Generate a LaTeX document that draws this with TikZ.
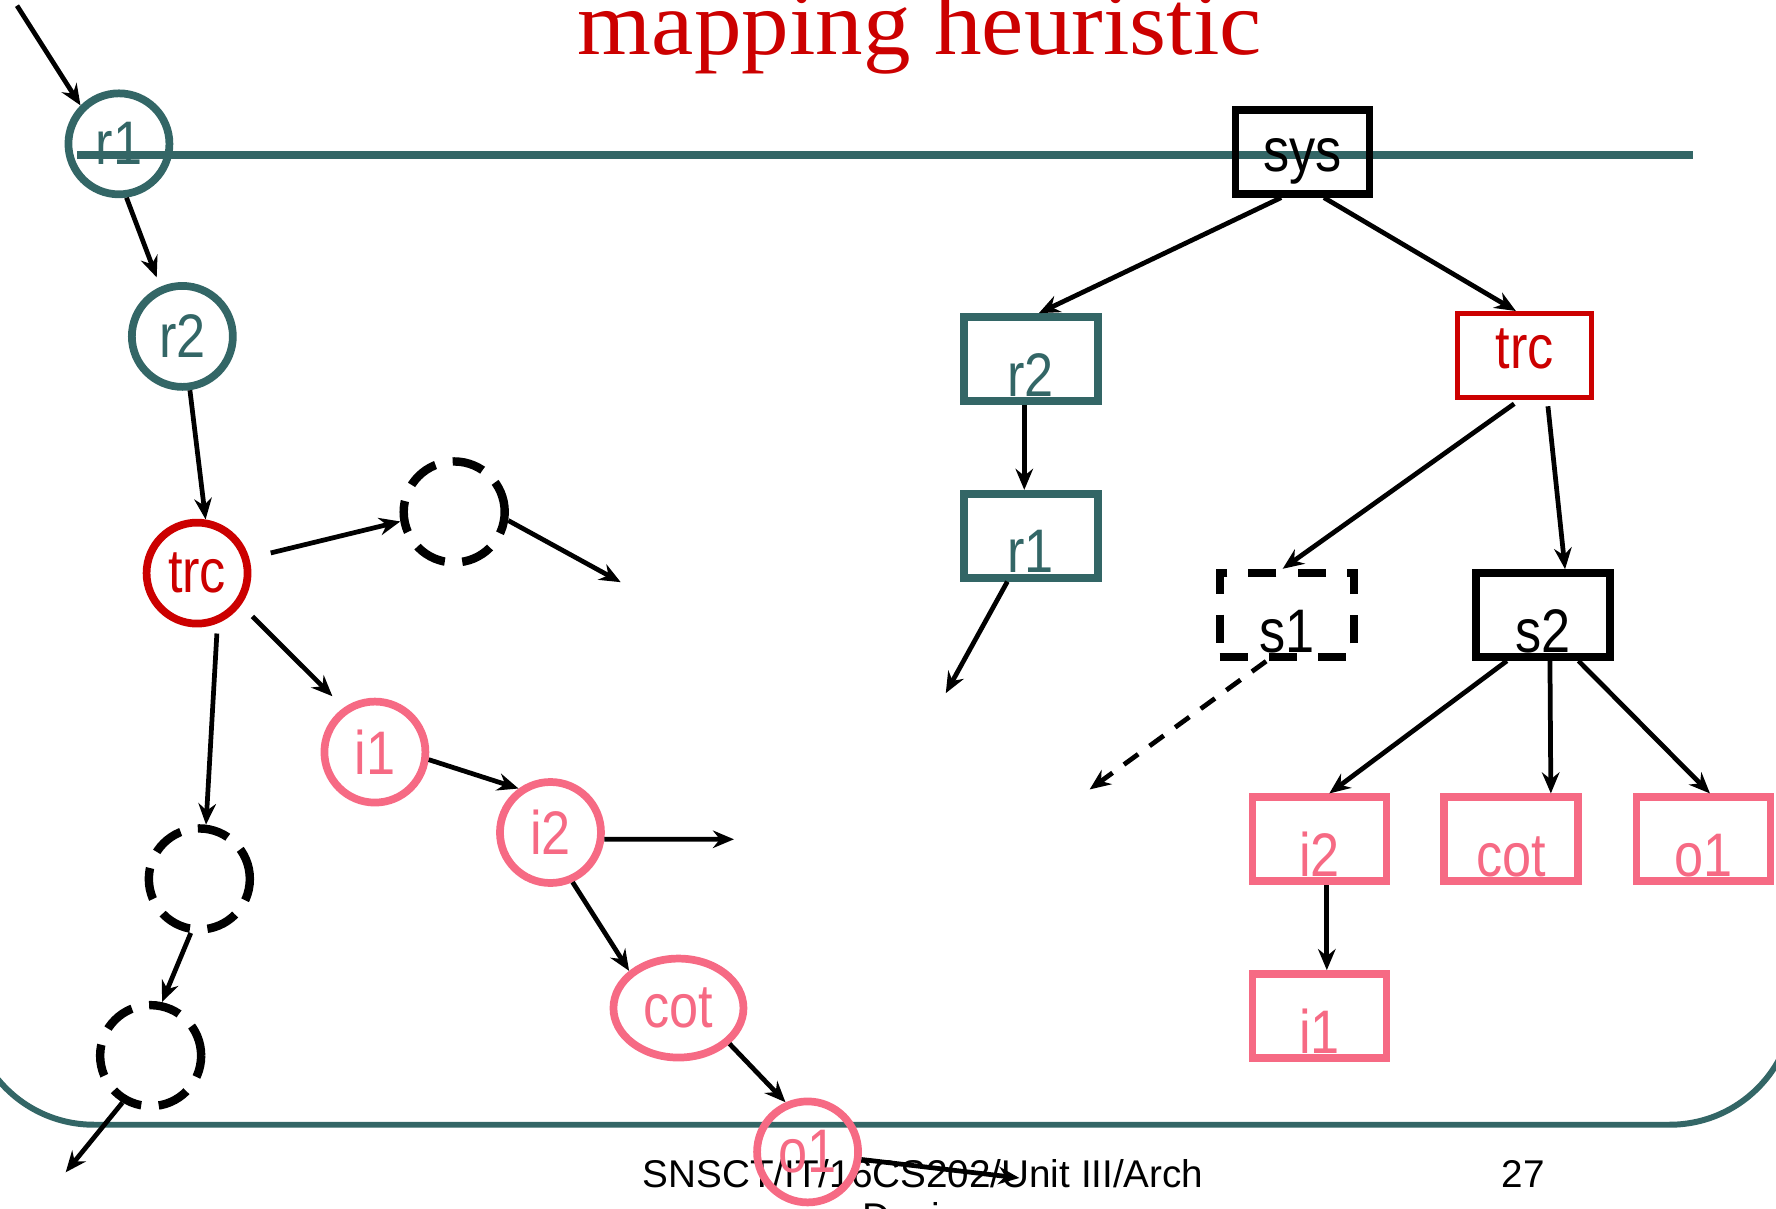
\documentclass[tikz,border=0pt]{standalone}
\usepackage{fontspec}
\setmainfont{Liberation Sans}
\newfontfamily\narrowfont[FakeStretch=0.85]{Liberation Sans}
\newfontfamily\titlefont[FakeStretch=1.04]{Liberation Serif}
\usepackage{tikz}
\usetikzlibrary{arrows.meta,shapes.geometric}
\definecolor{slteal}{HTML}{336666}
\definecolor{slred}{HTML}{CC0000}
\definecolor{slpink}{HTML}{F66A84}

\begin{document}
\begin{tikzpicture}[x=0.11327mm,y=-0.11327mm,>={Stealth[length=6pt,width=5pt,inset=2pt]}]
\tikzstyle{every node}=[font=\narrowfont\fontsize{17.5}{17.5}\selectfont,inner sep=0.5mm];
\tikzstyle{circ}=[draw,circle,line width=2.2pt,minimum size=10.1mm,inner sep=0pt];
\tikzstyle{dcirc}=[circ,line width=2.4pt,dash pattern=on 9pt off 5pt];
\tikzstyle{box}=[draw,rectangle,line width=2.2pt,minimum width=13.4mm,minimum height=8.4mm];
\tikzstyle{low}=[text height=7.4mm,text depth=0pt];
\tikzstyle{arr}=[->,line width=1.35pt];
\useasboundingbox (0,0) rectangle (1568,1067);
% slide frame and title
    \draw[slteal,line width=1.7pt,rounded corners=12.46mm] (-27,700) -- (-27,993) -- (1584,993) -- (1584,700);
    \draw[slteal,line width=2.3pt] (68,137) -- (1495,137);
    \node[font=\titlefont\fontsize{26}{26}\selectfont,slred,anchor=base] (title) at (812,48) {mapping heuristic};
    \node[font=\fontsize{11}{13}\selectfont,anchor=base] (foot) at (815,1048) {SNSCT/IT/16CS202/Unit III/Arch};
    \node[font=\fontsize{11}{13}\selectfont,anchor=base] (foot2) at (815,1086) {Design};
    \node[font=\fontsize{11}{13}\selectfont,anchor=base] (page) at (1345,1048) {27};
% draw search path
%   nodes
    \node[circ,slteal] (r1) at (105,127) {r1};
    \node[circ,slteal] (r2) at (161,297) {r2};
    \node[circ,slred] (trc) at (174,506) {trc};
    \node[dcirc] (d1) at (401,452) {};
    \node[circ,slpink] (i1) at (331,664) {i1};
    \node[circ,slpink] (i2) at (486,735) {i2};
    \node[draw,ellipse,slpink,line width=2.2pt,minimum width=13mm,minimum height=9.9mm,inner sep=0pt] (cot) at (599,890) {cot};
    \node[circ,slpink] (o1) at (713,1017) {o1};
    \node[dcirc] (d2) at (176,776) {};
    \node[dcirc] (d3) at (133,932) {};
    \coordinate (in0) at (15,5);
    \coordinate (out1) at (548,514);
    \coordinate (out2) at (648,741);
    \coordinate (out3) at (900,1040);
    \coordinate (out4) at (58,1035);
%   edges
    \draw[arr] (in0) -- (r1.135);
    \draw[arr,shorten >=1mm] (r1.-82) -- (r2.114);
    \draw[arr] (r2.-82) -- (trc.81);
    \draw[arr,shorten <=2.2mm] (trc.16) -- (d1.190);
    \draw[arr] (d1.-9) -- (out1);
    \draw[arr,shorten <=1.6mm,shorten >=1.6mm] (trc.-36) -- (i1.125);
    \draw[arr] (i1.-8) -- (i2.126);
    \draw[arr] (i2.-7) -- (out2);
    \draw[arr] (i2.-66) -- (cot.143);
    \draw[arr] (cot.-35) -- (o1.114);
    \draw[arr] (o1.-8) -- (out3);
    \draw[arr,shorten <=1mm] (trc.-68) -- (d2.83);
    \draw[arr] (d2.-99) -- (d3.78);
    \draw[arr] (d3.-121) -- (out4);
% draw tree
%   nodes
    \node[box,text height=5.3mm] (sys) at (1150,134) {sys};
    \node[box,low,slteal] (r2b) at (910,317) {r2};
    \node[box,low,slteal] (r1b) at (910,473) {r1};
    \node[box,slred,line width=1.5pt,text depth=1.5mm] (trcb) at (1346,314) {trc};
    \node[box,low,line width=2.4pt,dash pattern=on 8pt off 6pt] (s1) at (1136,543) {s1};
    \node[box,low] (s2) at (1362,543) {s2};
    \node[box,low,slpink] (i2b) at (1165,741) {i2};
    \node[box,low,slpink] (cotb) at (1334,741) {cot};
    \node[box,low,slpink] (o1b) at (1504,741) {o1};
    \node[box,low,slpink] (i1b) at (1165,897) {i1};
    \coordinate (out5) at (835,612);
    \coordinate (out6) at (962,697);
%   edges
    \draw[arr] (sys.-115) -- (r2b.80);
    \draw[arr] (sys.-65) -- (trcb.101);
    \draw[arr] (r2b.-98) -- (r1b.98);
    \draw[arr] (r1b.-117) -- (out5);
    \draw[arr,shorten <=0.6mm] (trcb.-97) -- (s1.95);
    \draw[arr,shorten <=0.6mm] (trcb.-63) -- (s2.64);
    \draw[arr,dash pattern=on 5pt off 4pt] (s1.-114) -- (out6);
    \draw[arr] (s2.-128) -- (i2b.78);
    \draw[arr] (s2.-81) -- (cotb.49);
    \draw[arr] (s2.-52) -- (o1b.82);
    \draw[arr] (i2b.-81) -- (i1b.81);
\end{tikzpicture}
\end{document}
